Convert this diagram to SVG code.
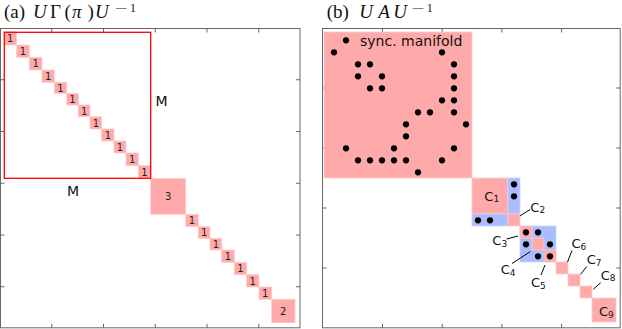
<svg xmlns="http://www.w3.org/2000/svg" width="622" height="329" viewBox="0 0 622 329">
<style>
.frame{fill:none;stroke:#666;stroke-width:1}
.tick{stroke:#666;stroke-width:1}
.pk{fill:#ffaaaa;stroke:#ffcccc;stroke-width:0.8}
.bl{fill:#aabbff;stroke:#ccd6ff;stroke-width:0.8}
.one{font-family:"DejaVu Sans",sans-serif;font-size:10px;fill:#222;text-anchor:middle}
.lab{font-family:"DejaVu Sans",sans-serif;font-size:14px;fill:#111}
.cl{font-family:"DejaVu Sans",sans-serif;font-size:13px;fill:#111}
.sub{font-size:9px}
.ttl{font-family:"Liberation Serif","Times New Roman",serif;font-size:19px;fill:#111}
.it{font-style:italic}
.dot{fill:#000}
.lead{stroke:#000;stroke-width:1;fill:none}
</style>

<g id="title-a" class="ttl">
<text y="17.5"><tspan x="4">(a)</tspan><tspan x="33" class="it">U</tspan><tspan x="50">Γ</tspan><tspan x="64.5">(</tspan><tspan x="72" class="it">π</tspan><tspan x="87.5">)</tspan><tspan x="95" class="it">U</tspan></text>
<text x="115" y="11.5" font-size="12" textLength="13" lengthAdjust="spacingAndGlyphs">−</text>
<text x="130" y="11.7" font-size="12">1</text>
</g>
<g id="title-b" class="ttl">
<text y="17.5"><tspan x="326.7">(b)</tspan><tspan x="359.3" class="it">U</tspan><tspan x="378.3" class="it">A</tspan><tspan x="393.3" class="it">U</tspan></text>
<text x="411.7" y="11.5" font-size="12" textLength="13" lengthAdjust="spacingAndGlyphs">−</text>
<text x="426.7" y="11.7" font-size="12">1</text>
</g>

<g id="axes-a">
<rect class="frame" x="0.5" y="28.5" width="299.5" height="299.3"/>
<path class="tick" d="M51.75 28.5v4M103.5 28.5v4M155.25 28.5v4M207 28.5v4M258.75 28.5v4M51.75 327.8v-4M103.5 327.8v-4M155.25 327.8v-4M207 327.8v-4M258.75 327.8v-4M0.5 79.75h4M0.5 131.5h4M0.5 183.25h4M0.5 235h4M0.5 286.75h4M300 79.75h-4M300 131.5h-4M300 183.25h-4M300 235h-4M300 286.75h-4"/>
</g>

<g id="matrix-a">
<g id="a-ones-M">
<rect class="pk" x="4" y="31.7" width="12.6" height="13.3"/>
<rect class="pk" x="16.7" y="45" width="12.6" height="12.3"/>
<rect class="pk" x="29.3" y="57.3" width="12.7" height="12.7"/>
<rect class="pk" x="42" y="70" width="12.3" height="12.3"/>
<rect class="pk" x="54.3" y="82.3" width="12.4" height="11"/>
<rect class="pk" x="66.7" y="93.3" width="11.6" height="11.7"/>
<rect class="pk" x="78.3" y="105" width="11.7" height="11.7"/>
<rect class="pk" x="90" y="116.7" width="11.7" height="12.3"/>
<rect class="pk" x="101.7" y="129" width="12.3" height="12"/>
<rect class="pk" x="114" y="141" width="12" height="12"/>
<rect class="pk" x="126" y="153" width="12.3" height="12.7"/>
<rect class="pk" x="138.3" y="165.7" width="12.4" height="12.6"/>
<text class="one" x="10.3" y="42">1</text>
<text class="one" x="23" y="55">1</text>
<text class="one" x="35.6" y="67.3">1</text>
<text class="one" x="48.2" y="79.8">1</text>
<text class="one" x="60.5" y="91.5">1</text>
<text class="one" x="72.5" y="102.8">1</text>
<text class="one" x="84.2" y="114.5">1</text>
<text class="one" x="95.9" y="126.5">1</text>
<text class="one" x="107.9" y="138.6">1</text>
<text class="one" x="120" y="150.6">1</text>
<text class="one" x="132.2" y="163">1</text>
<text class="one" x="144.5" y="175.6">1</text>
</g>
<g id="a-block-3">
<rect class="pk" x="150.7" y="178.3" width="35" height="36"/>
<text class="one" x="168.3" y="200">3</text>
</g>
<g id="a-ones-lower">
<rect class="pk" x="185.7" y="214.3" width="12.6" height="12.4"/>
<rect class="pk" x="198.3" y="226.7" width="11.7" height="11.6"/>
<rect class="pk" x="210" y="238.3" width="11.7" height="11.7"/>
<rect class="pk" x="221.7" y="250" width="12.6" height="12.3"/>
<rect class="pk" x="234.3" y="262.3" width="12.4" height="12.4"/>
<rect class="pk" x="246.7" y="274.7" width="12.3" height="12.3"/>
<rect class="pk" x="259" y="287" width="12.7" height="12.3"/>
<text class="one" x="192" y="224.1">1</text>
<text class="one" x="204.2" y="236.1">1</text>
<text class="one" x="215.9" y="247.8">1</text>
<text class="one" x="228" y="259.8">1</text>
<text class="one" x="240.5" y="272.1">1</text>
<text class="one" x="252.8" y="284.5">1</text>
<text class="one" x="265.3" y="296.8">1</text>
</g>
<g id="a-block-2">
<rect class="pk" x="271.7" y="299.3" width="23.3" height="23.4"/>
<text class="one" x="283.3" y="314.6">2</text>
</g>
<g id="box-M">
<rect x="4.3" y="32.3" width="146.4" height="146" fill="none" stroke="#ff0000" stroke-width="1.3"/>
<text class="lab" x="155.5" y="106">M</text>
<text class="lab" x="67" y="195.5">M</text>
</g>
</g>

<g id="axes-b">
<rect class="frame" x="322.5" y="28.5" width="297.7" height="299.3"/>
<path class="tick" d="M382.5 28.5v4M442.2 28.5v4M501.9 28.5v4M561.6 28.5v4M382.5 327.8v-4M442.2 327.8v-4M501.9 327.8v-4M561.6 327.8v-4M322.5 88h4M322.5 148h4M322.5 208h4M322.5 268h4M620.2 88h-4M620.2 148h-4M620.2 208h-4M620.2 268h-4"/>
</g>

<g id="matrix-b">
<g id="sync-manifold">
<rect class="pk" x="324" y="32" width="148" height="146"/>
<text class="lab" x="360" y="45.5" font-size="14.5">sync. manifold</text>
</g>
<g id="block-C1-C2">
<rect class="pk" x="472" y="178" width="36" height="36"/>
<rect class="bl" x="508" y="178" width="12" height="36"/>
<rect class="bl" x="472" y="214" width="36" height="12"/>
<rect class="pk" x="508" y="214" width="12" height="12"/>
<text class="cl" x="484.3" y="200.5">C<tspan class="sub" dy="1.8">1</tspan></text>
</g>
<g id="block-C3-C5">
<rect class="bl" x="520" y="226" width="36" height="36"/>
<rect class="pk" x="520" y="226" width="12" height="12"/>
<rect class="pk" x="532" y="238" width="12" height="12"/>
<rect class="pk" x="544" y="250" width="12" height="12"/>
</g>
<g id="C6"><rect class="pk" x="556" y="262" width="12" height="12"/></g>
<g id="C7"><rect class="pk" x="568" y="274" width="12" height="12"/></g>
<g id="C8"><rect class="pk" x="580" y="286" width="12" height="12"/></g>
<g id="C9">
<rect class="pk" x="592" y="298" width="24" height="24"/>
<text class="cl" x="599" y="316">C<tspan class="sub" dy="2">9</tspan></text>
</g>
<g id="dots">
<circle class="dot" cx="346" cy="40.3" r="3.1"/>
<circle class="dot" cx="334" cy="52.3" r="3.1"/>
<circle class="dot" cx="442" cy="52.3" r="3.1"/>
<circle class="dot" cx="358" cy="64.3" r="3.1"/>
<circle class="dot" cx="370" cy="64.3" r="3.1"/>
<circle class="dot" cx="454" cy="64.3" r="3.1"/>
<circle class="dot" cx="358" cy="76.3" r="3.1"/>
<circle class="dot" cx="382" cy="76.3" r="3.1"/>
<circle class="dot" cx="454" cy="76.3" r="3.1"/>
<circle class="dot" cx="370" cy="88.3" r="3.1"/>
<circle class="dot" cx="382" cy="88.3" r="3.1"/>
<circle class="dot" cx="454" cy="88.3" r="3.1"/>
<circle class="dot" cx="442" cy="100.3" r="3.1"/>
<circle class="dot" cx="454" cy="100.3" r="3.1"/>
<circle class="dot" cx="418" cy="112.3" r="3.1"/>
<circle class="dot" cx="430" cy="112.3" r="3.1"/>
<circle class="dot" cx="454" cy="112.3" r="3.1"/>
<circle class="dot" cx="406" cy="124.3" r="3.1"/>
<circle class="dot" cx="466" cy="124.3" r="3.1"/>
<circle class="dot" cx="406" cy="136.3" r="3.1"/>
<circle class="dot" cx="346" cy="148.3" r="3.1"/>
<circle class="dot" cx="394" cy="148.3" r="3.1"/>
<circle class="dot" cx="454" cy="148.3" r="3.1"/>
<circle class="dot" cx="358" cy="160.3" r="3.1"/>
<circle class="dot" cx="370" cy="160.3" r="3.1"/>
<circle class="dot" cx="382" cy="160.3" r="3.1"/>
<circle class="dot" cx="394" cy="160.3" r="3.1"/>
<circle class="dot" cx="406" cy="160.3" r="3.1"/>
<circle class="dot" cx="442" cy="160.3" r="3.1"/>
<circle class="dot" cx="418" cy="172.3" r="3.1"/>
<circle class="dot" cx="514" cy="184.3" r="3.1"/>
<circle class="dot" cx="514" cy="196.3" r="3.1"/>
<circle class="dot" cx="478" cy="220.3" r="3.1"/>
<circle class="dot" cx="490" cy="220.3" r="3.1"/>
<circle class="dot" cx="526" cy="232.3" r="3.1"/>
<circle class="dot" cx="538" cy="232.3" r="3.1"/>
<circle class="dot" cx="526" cy="244.3" r="3.1"/>
<circle class="dot" cx="550" cy="244.3" r="3.1"/>
<circle class="dot" cx="538" cy="256.3" r="3.1"/>
<circle class="dot" cx="550" cy="256.3" r="3.1"/>
</g>
<g id="labels-C">
<text class="cl" x="530.3" y="211.5">C<tspan class="sub" dy="1.8">2</tspan></text>
<text class="cl" x="492.3" y="245">C<tspan class="sub" dy="1.8">3</tspan></text>
<text class="cl" x="500.7" y="274">C<tspan class="sub" dy="1.5">4</tspan></text>
<text class="cl" x="531" y="287.3">C<tspan class="sub" dy="2">5</tspan></text>
<text class="cl" x="571.5" y="248.3">C<tspan class="sub" dy="1.7">6</tspan></text>
<text class="cl" x="586.7" y="264.3">C<tspan class="sub" dy="1.2">7</tspan></text>
<text class="cl" x="600.7" y="280">C<tspan class="sub" dy="1.2">8</tspan></text>
</g>
</g>

<g id="connectors">
<path class="lead" d="M530 209.5L520 216"/>
<path class="lead" d="M506.5 239L518 236"/>
<path class="lead" d="M512 263.5L530.5 251.5"/>
<path class="lead" d="M541 275L545 265"/>
<path class="lead" d="M572 250.5L567.5 262"/>
<path class="lead" d="M586.7 266.5L580.7 274.3"/>
<path class="lead" d="M600.7 282.7L593.3 289.3"/>
</g>
</svg>
